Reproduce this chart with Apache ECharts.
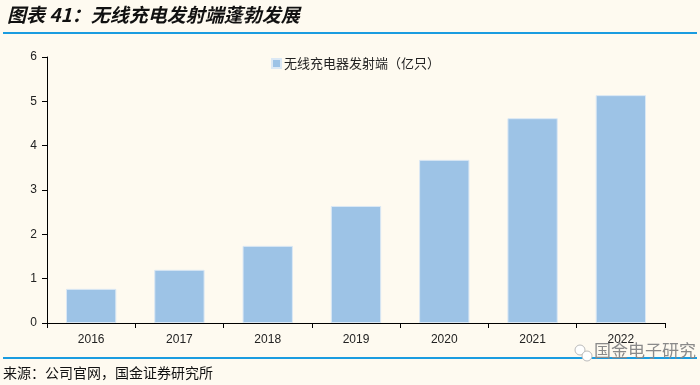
<!DOCTYPE html>
<html><head><meta charset="utf-8">
<script src="https://cdn.jsdelivr.net/npm/echarts@6/dist/echarts.min.js"></script>
<style>html,body{margin:0;padding:0;background:#fefaf0;}#c{width:700px;height:385px;}</style>
</head><body><div id="c"></div>
<script>
const categories = ['2016','2017','2018','2019','2020','2021','2022'];
const values = [0.77, 1.2, 1.74, 2.64, 3.68, 4.62, 5.14];
const seriesName = '无线充电器发射端（亿只）';
const titleText = '图表 41：无线充电发射端蓬勃发展';
const sourceText = '来源：公司官网，国金证券研究所';
const watermarkText = '国金电子研究';

const chart = echarts.init(document.getElementById('c'));
const fontCJK = '"Noto Sans CJK SC", "Liberation Sans", sans-serif';
chart.setOption({
  backgroundColor: '#fefaf0',
  animation: false,
  grid: {left: 47, right: 35, top: 57, bottom: 62},
  legend: {
    top: 52, left: 266,
    itemWidth: 9, itemHeight: 9, itemGap: 4,
    icon: 'rect',
    textStyle: {fontSize: 13, color: '#222', fontFamily: fontCJK, padding: [0,0,0,-2]},
    data: [seriesName]
  },
  xAxis: {
    type: 'category', data: categories,
    axisLine: {lineStyle: {color: '#000', width: 1}},
    axisTick: {show: true, alignWithLabel: false, length: 5, lineStyle: {color: '#000'}},
    axisLabel: {fontSize: 12, color: '#222', margin: 11, fontFamily: '"Liberation Sans", Arial, sans-serif'}
  },
  yAxis: {
    type: 'value', min: 0, max: 6, interval: 1,
    axisLine: {show: true, lineStyle: {color: '#000', width: 1}},
    axisTick: {show: true, length: 5, lineStyle: {color: '#000'}},
    splitLine: {show: false},
    axisLabel: {fontSize: 12, color: '#222', margin: 10, fontFamily: '"Liberation Sans", Arial, sans-serif'}
  },
  series: [{
    name: seriesName, type: 'bar', data: values,
    barWidth: '57%',
    itemStyle: {color: '#9dc3e6', borderColor: '#dbe8f4', borderWidth: 1}
  }],
  graphic: [
    {type: 'text', left: 7, top: 5, style: {text: titleText, font: 'italic bold 19px "Noto Sans CJK SC", sans-serif', fill: '#111'}},
    {type: 'rect', shape: {x: 3, y: 32, width: 694, height: 2}, style: {fill: '#1a9ce0'}},
    {type: 'rect', shape: {x: 3, y: 357, width: 694, height: 2}, style: {fill: '#1a9ce0'}},
    {type: 'text', left: 3, top: 366, style: {text: sourceText, font: '14px "Noto Sans CJK SC", sans-serif', fill: '#111'}},
    {type: 'text', left: 594, top: 342, style: {text: watermarkText, font: '17px "Noto Sans CJK SC", sans-serif', fill: '#8a8a8a'}},
    {type: 'circle', shape: {cx: 580, cy: 350, r: 5}, style: {fill: '#fff', stroke: '#bbb', lineWidth: 1}},
    {type: 'circle', shape: {cx: 587, cy: 356, r: 5}, style: {fill: '#fff', stroke: '#bbb', lineWidth: 1}}
  ]
});
</script></body></html>
